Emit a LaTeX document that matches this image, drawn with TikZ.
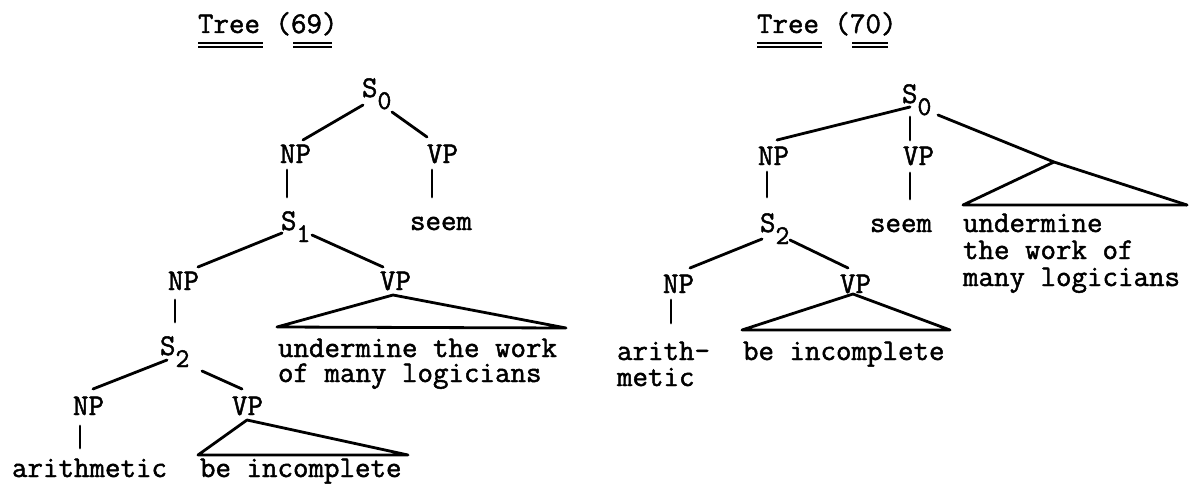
\documentclass[tikz,border=0pt]{standalone}
\usepackage{fontspec}
\newfontfamily\twfont{Latin Modern Mono}[FakeBold=1.6]
\newcommand{\tsub}[1]{S\raisebox{-12pt}{\fontsize{27}{27}\selectfont #1}}
\tikzset{
  lbl/.style={anchor=base west, inner sep=0pt, outer sep=0pt, font=\twfont\fontsize{30.1}{30}\selectfont},
  branch/.style={line width=2.8pt, line cap=round, line join=round},
  uline/.style={line width=2pt}
}
\begin{document}
\begin{tikzpicture}[x=1pt,y=-1pt]
\useasboundingbox (0,0) rectangle (1198,484);
% ---------------- Tree (69) ----------------
\node[lbl] (T69) at (198,33) {Tree (69)};
\draw[uline] ([shift={(0,10)}]T69.base west) -- ([shift={(65,10)}]T69.base west);
\draw[uline] ([shift={(0,14)}]T69.base west) -- ([shift={(65,14)}]T69.base west);
\draw[uline] ([shift={(95,10)}]T69.base west) -- ([shift={(134,10)}]T69.base west);
\draw[uline] ([shift={(95,14)}]T69.base west) -- ([shift={(134,14)}]T69.base west);

\node[lbl] (L0) at (362,97) {\tsub{0}};
\node[lbl] (LNP1) at (280,163) {NP};
\node[lbl] (LVP1) at (427,163) {VP};
\node[lbl] (LS1) at (281,230) {\tsub{1}};
\node[lbl] (Lseem) at (410,230) {seem};
\node[lbl] (LNP2) at (168,290) {NP};
\node[lbl] (LVP2) at (380,290) {VP};
\node[lbl] (LS2) at (160,355) {\tsub{2}};
\node[lbl] (Lund1) at (278,357) {undermine the work};
\node[lbl] (Lund2) at (278,382) {of many logicians};
\node[lbl] (LNP3) at (73,415) {NP};
\node[lbl] (LVP3) at (232,415) {VP};
\node[lbl] (Larith) at (12,477) {arithmetic};
\node[lbl] (Lbe) at (200,477) {be incomplete};

\draw[branch] ([shift={(1,8)}]L0.base west) -- ([shift={(23,-23)}]LNP1.base west);
\draw[branch] ([shift={(30,15)}]L0.base west) -- ([shift={(0,-26)}]LVP1.base west);
\draw[branch] ([shift={(7,7)}]LNP1.base west) -- ([shift={(6,-33)}]LS1.base west);
\draw[branch] ([shift={(5,7)}]LVP1.base west) -- ([shift={(22,-33)}]Lseem.base west);
\draw[branch] ([shift={(1,3)}]LS1.base west) -- ([shift={(30,-23)}]LNP2.base west);
\draw[branch] ([shift={(31,5)}]LS1.base west) -- ([shift={(3,-23)}]LVP2.base west);
\draw[branch] ([shift={(7,10)}]LNP2.base west) -- ([shift={(15,-33)}]LS2.base west);
\draw[branch] ([shift={(13,5)}]LVP2.base west) -- ([shift={(-1,-30)}]Lund1.base west)
   -- ([shift={(288,-29)}]Lund1.base west) -- cycle;
\draw[branch] ([shift={(7,5)}]LS2.base west) -- ([shift={(20,-26)}]LNP3.base west);
\draw[branch] ([shift={(42,16)}]LS2.base west) -- ([shift={(10,-26)}]LVP3.base west);
\draw[branch] ([shift={(7,11)}]LNP3.base west) -- ([shift={(68,-29)}]Larith.base west);
\draw[branch] ([shift={(15,5)}]LVP3.base west) -- ([shift={(-2,-22)}]Lbe.base west)
   -- ([shift={(208,-22)}]Lbe.base west) -- cycle;

% ---------------- Tree (70) ----------------
\node[lbl] (T70) at (757,33) {Tree (70)};
\draw[uline] ([shift={(0,10)}]T70.base west) -- ([shift={(65,10)}]T70.base west);
\draw[uline] ([shift={(0,14)}]T70.base west) -- ([shift={(65,14)}]T70.base west);
\draw[uline] ([shift={(95,10)}]T70.base west) -- ([shift={(131,10)}]T70.base west);
\draw[uline] ([shift={(95,14)}]T70.base west) -- ([shift={(131,14)}]T70.base west);

\node[lbl] (R0) at (902,103) {\tsub{0}};
\node[lbl] (RNP1) at (758,165) {NP};
\node[lbl] (RVP1) at (903,165) {VP};
\node[lbl] (RS2) at (760,232) {\tsub{2}};
\node[lbl] (Rseem) at (870,232) {seem};
\node[lbl] (Rund1) at (963,232) {undermine};
\node[lbl] (Rund2) at (963,259) {the work of};
\node[lbl] (Rund3) at (963,286) {many logicians};
\node[lbl] (RNP2) at (663,293) {NP};
\node[lbl] (RVP2) at (840,293) {VP};
\node[lbl] (Rarith1) at (617,360) {arith-};
\node[lbl] (Rarith2) at (617,386) {metic};
\node[lbl] (Rbe) at (743,360) {be incomplete};

\coordinate (Rapex) at ([shift={(91,-70)}]Rund1.base west);
\draw[branch] ([shift={(8,4)}]R0.base west) -- ([shift={(19,-25)}]RNP1.base west);
\draw[branch] ([shift={(8,14)}]R0.base west) -- ([shift={(7,-25)}]RVP1.base west);
\draw[branch] ([shift={(36,12)}]R0.base west) -- (Rapex) -- ([shift={(224,-27)}]Rund1.base west);
\draw[branch] (Rapex) -- ([shift={(0,-27)}]Rund1.base west) -- ([shift={(224,-27)}]Rund1.base west);
\draw[branch] ([shift={(9,7)}]RNP1.base west) -- ([shift={(7,-35)}]RS2.base west);
\draw[branch] ([shift={(7,8)}]RVP1.base west) -- ([shift={(40,-33)}]Rseem.base west);
\draw[branch] ([shift={(2,7)}]RS2.base west) -- ([shift={(27,-25)}]RNP2.base west);
\draw[branch] ([shift={(30,8)}]RS2.base west) -- ([shift={(8,-25)}]RVP2.base west);
\draw[branch] ([shift={(8,7)}]RNP2.base west) -- ([shift={(54,-37)}]Rarith1.base west);
\draw[branch] ([shift={(13,1)}]RVP2.base west) -- ([shift={(-1,-30)}]Rbe.base west)
   -- ([shift={(207,-30)}]Rbe.base west) -- cycle;
\end{tikzpicture}
\end{document}
